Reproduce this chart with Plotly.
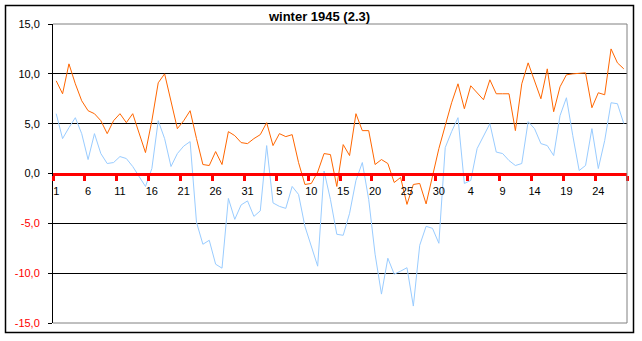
import plotly.graph_objects as go

# Day labels shown on the category axis (every 5th day, Dec 1944 - Feb 1945)
tick_labels = ["1", "6", "11", "16", "21", "26", "31", "5", "10", "15",
               "20", "25", "30", "4", "9", "14", "19", "24"]

# Daily maximum temperature (orange)
t_max = [9.3, 8.0, 11.0, 9.0, 7.3, 6.3, 6.0, 5.3, 4.0, 5.3,
         6.0, 5.1, 6.0, 4.1, 2.1, 5.3, 9.1, 10.0, 7.4, 4.5,
         5.3, 6.3, 3.5, 0.9, 0.8, 2.2, 0.9, 4.2, 3.8, 3.1,
         3.0, 3.5, 3.9, 5.1, 2.8, 4.0, 3.7, 3.9, 1.1, -1.1,
         -1.0, 0.15, 2.0, 1.9, -1.3, 2.9, 1.8, 6.0, 4.3, 4.3,
         0.9, 1.4, 1.0, -0.9, -0.4, -3.1, -1.1, -1.0, -3.05, -0.4,
         2.5, 4.8, 7.1, 9.0, 6.5, 8.8, 8.1, 7.4, 9.4, 8.0,
         8.0, 8.0, 4.3, 9.0, 11.1, 9.3, 7.5, 10.5, 6.2, 8.7,
         9.9, 10.0, 10.05, 10.1, 6.6, 8.1, 7.9, 12.5, 11.1, 10.5]

# Daily minimum temperature (light blue)
t_min = [6.0, 3.5, 4.6, 5.6, 4.0, 1.4, 4.0, 2.0, 1.0, 1.1,
         1.7, 1.5, 0.7, -0.3, -1.3, 0.5, 5.3, 3.5, 0.7, 2.0,
         2.75, 3.2, -4.9, -7.1, -6.7, -9.1, -9.5, -2.5, -4.6, -3.15,
         -2.75, -4.3, -3.75, 2.8, -2.95, -3.3, -3.5, -1.3, -2.1, -5.3,
         -7.2, -9.3, 0.25, -2.6, -6.1, -6.2, -4.0, -0.7, 1.1, -2.6,
         -8.1, -12.1, -8.5, -10.1, -9.8, -9.45, -13.3, -7.2, -5.3, -5.5,
         -7.0, 2.6, 4.2, 5.6, -1.0, -0.7, 2.5, 3.8, 5.0, 2.15,
         2.0, 1.3, 0.8, 1.0, 5.2, 4.5, 3.0, 2.8, 1.8, 5.8,
         7.6, 3.8, 0.3, 0.8, 4.5, 0.5, 3.3, 7.1, 7.0, 5.0]

y_ticks = [15, 10, 5, 0, -5, -10, -15]

n = len(t_max)
idx = list(range(n))
label_pos = idx[::5]
boundaries = [i - 0.5 for i in range(0, n + 1, 5)]


def fmt(v):
    s = f"{v:.1f}".replace(".", ",")
    if v < 0:
        return f'<span style="color:#FF0000">{s}</span>'
    return s


W, H = 642, 341
L, R, T, B = 53, 627, 24, 325

fig = go.Figure()
fig.add_trace(go.Scatter(x=idx, y=t_min, mode="lines",
                         line=dict(color="#99CCFF", width=1), hoverinfo="skip"))
fig.add_trace(go.Scatter(x=idx, y=t_max, mode="lines",
                         line=dict(color="#FF6600", width=1), hoverinfo="skip"))


def px_x(p):
    return (p - L) / (R - L)


def px_y(p):
    return (B - p) / (B - T)


shapes = [
    # plot-area border (gray) top, right, bottom
    dict(type="line", xref="x domain", yref="y domain", x0=0, x1=1, y0=1, y1=1,
         line=dict(color="#808080", width=1), layer="above"),
    dict(type="line", xref="x domain", yref="y domain", x0=1, x1=1, y0=0, y1=1,
         line=dict(color="#808080", width=1), layer="above"),
    dict(type="line", xref="x domain", yref="y domain", x0=0, x1=1, y0=0, y1=0,
         line=dict(color="#808080", width=1), layer="above"),
    # outer chart border
    dict(type="rect", xref="paper", yref="paper",
         x0=px_x(5.5), x1=px_x(633.5), y0=px_y(334.5), y1=px_y(5.5),
         line=dict(color="black", width=1.5), fillcolor="rgba(0,0,0,0)", layer="above"),
]

fig.update_layout(
    width=W, height=H,
    margin=dict(l=L, r=W - R, t=T, b=H - B, pad=0),
    paper_bgcolor="white", plot_bgcolor="white",
    showlegend=False,
    font=dict(family="Liberation Sans, Arial, sans-serif", size=11, color="black"),
    title=dict(text="<b>winter 1945 (2.3)</b>", x=319.5 / W, xref="container", xanchor="center",
               y=1 - 16.5 / H, yref="container", yanchor="middle",
               font=dict(family="Liberation Sans, Arial, sans-serif", size=13, color="black")),
    xaxis=dict(range=[-0.5, n - 0.5], anchor="free", position=0.5,
               showline=True, linecolor="#FF0000", linewidth=3,
               tickmode="array", tickvals=label_pos, ticktext=tick_labels,
               ticks="", showgrid=False, zeroline=False, layer="above traces",
               tickfont=dict(size=11, color="black"), ticklabelstandoff=6,
               minor=dict(tickmode="array", tickvals=boundaries, ticks="outside",
                          ticklen=5, tickwidth=3, tickcolor="#FF0000", showgrid=False)),
    yaxis=dict(range=[-15, 15], tickmode="array", tickvals=y_ticks,
               ticktext=[fmt(v) for v in y_ticks],
               ticks="outside", ticklen=4, tickcolor="black", tickwidth=1,
               showline=True, linecolor="black", linewidth=1,
               showgrid=True, gridcolor="black", gridwidth=1, zeroline=False,
               tickfont=dict(size=11, color="black"), ticklabelstandoff=6),
    shapes=shapes,
)

fig.write_html("out.html")
